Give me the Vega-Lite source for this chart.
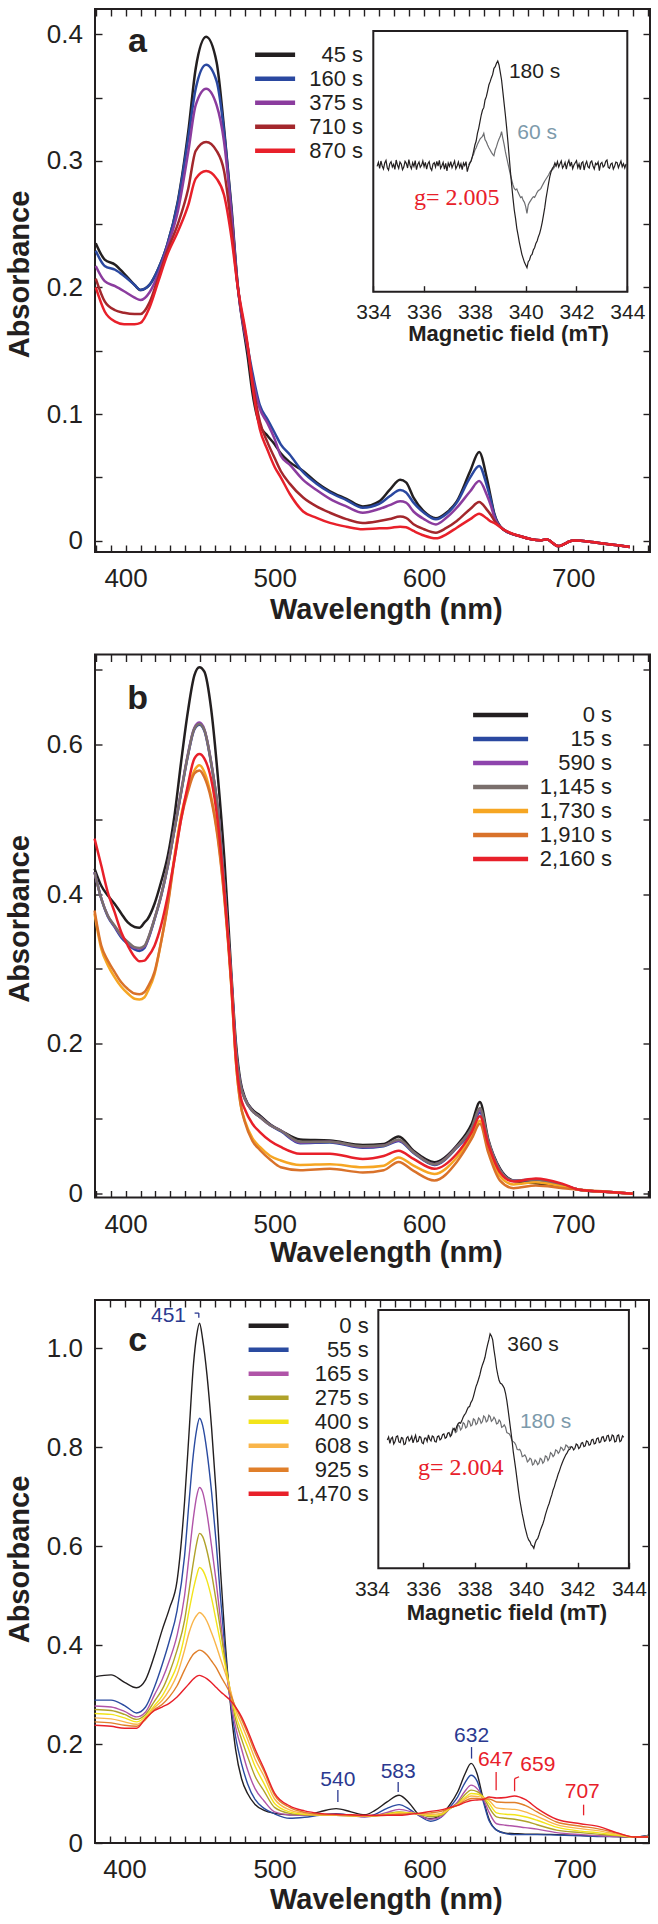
{
"$schema":"https://vega.github.io/schema/vega-lite/v6.json",
"padding":{"left":4,"top":7,"right":0,"bottom":0},
"background":"white",
"spacing":102.5,
"bounds":"flush",
"resolve":{"scale":{"color":"independent"},"legend":{"color":"independent"}},
"config":{
"view":{"stroke":"#231f20","strokeWidth":2},
"axis":{"domain":false,"grid":false,"tickColor":"#231f20","tickWidth":1.4,"tickSize":-7,"labelFont":"Liberation Sans","labelFontSize":26,"labelColor":"#231f20","labelPadding":20,"labelOverlap":false,"labelFlush":false,"titleFont":"Liberation Sans","titleFontWeight":"bold","titleFontSize":29,"titleColor":"#231f20"},
"legend":{"labelFont":"Liberation Sans","labelFontSize":22,"labelColor":"#231f20","padding":0,"symbolType":"stroke","symbolStrokeWidth":4.5}
},
"datasets":{
"specA":[
{"w":380,"t":"45 s","v":0.235},{"w":386,"t":"45 s","v":0.222},{"w":393,"t":"45 s","v":0.218},{"w":399,"t":"45 s","v":0.211},{"w":406,"t":"45 s","v":0.202},{"w":410,"t":"45 s","v":0.198},{"w":416,"t":"45 s","v":0.202},{"w":422,"t":"45 s","v":0.215},{"w":428,"t":"45 s","v":0.234},{"w":435,"t":"45 s","v":0.268},{"w":442,"t":"45 s","v":0.323},{"w":447,"t":"45 s","v":0.373},{"w":454,"t":"45 s","v":0.398},{"w":461,"t":"45 s","v":0.378},{"w":466,"t":"45 s","v":0.326},{"w":471,"t":"45 s","v":0.263},{"w":475,"t":"45 s","v":0.204},{"w":482,"t":"45 s","v":0.144},{"w":485,"t":"45 s","v":0.117},{"w":490,"t":"45 s","v":0.091},{"w":495,"t":"45 s","v":0.083},{"w":500,"t":"45 s","v":0.076},{"w":504,"t":"45 s","v":0.069},{"w":510,"t":"45 s","v":0.062},{"w":519,"t":"45 s","v":0.055},{"w":528,"t":"45 s","v":0.046},{"w":537,"t":"45 s","v":0.039},{"w":548,"t":"45 s","v":0.033},{"w":559,"t":"45 s","v":0.027},{"w":570,"t":"45 s","v":0.031},{"w":577,"t":"45 s","v":0.040},{"w":584,"t":"45 s","v":0.048},{"w":588,"t":"45 s","v":0.046},{"w":593,"t":"45 s","v":0.034},{"w":600,"t":"45 s","v":0.023},{"w":608,"t":"45 s","v":0.0176},{"w":615,"t":"45 s","v":0.022},{"w":622,"t":"45 s","v":0.031},{"w":631,"t":"45 s","v":0.055},{"w":637,"t":"45 s","v":0.070},{"w":642,"t":"45 s","v":0.050},{"w":645,"t":"45 s","v":0.033},{"w":647,"t":"45 s","v":0.022},{"w":653,"t":"45 s","v":0.009},{"w":664,"t":"45 s","v":0.0036},{"w":678,"t":"45 s","v":0.0002},{"w":682,"t":"45 s","v":0.001},{"w":690,"t":"45 s","v":-0.0043},{"w":700,"t":"45 s","v":0},{"w":716,"t":"45 s","v":-0.0016},{"w":738,"t":"45 s","v":-0.005},
{"w":380,"t":"160 s","v":0.229},{"w":386,"t":"160 s","v":0.217},{"w":393,"t":"160 s","v":0.214},{"w":399,"t":"160 s","v":0.209},{"w":406,"t":"160 s","v":0.202},{"w":410,"t":"160 s","v":0.198},{"w":416,"t":"160 s","v":0.202},{"w":422,"t":"160 s","v":0.215},{"w":428,"t":"160 s","v":0.234},{"w":435,"t":"160 s","v":0.267},{"w":442,"t":"160 s","v":0.318},{"w":447,"t":"160 s","v":0.357},{"w":454,"t":"160 s","v":0.376},{"w":461,"t":"160 s","v":0.363},{"w":466,"t":"160 s","v":0.323},{"w":471,"t":"160 s","v":0.260},{"w":475,"t":"160 s","v":0.203},{"w":482,"t":"160 s","v":0.152},{"w":485,"t":"160 s","v":0.133},{"w":490,"t":"160 s","v":0.107},{"w":495,"t":"160 s","v":0.096},{"w":500,"t":"160 s","v":0.085},{"w":504,"t":"160 s","v":0.076},{"w":510,"t":"160 s","v":0.068},{"w":519,"t":"160 s","v":0.054},{"w":528,"t":"160 s","v":0.045},{"w":537,"t":"160 s","v":0.038},{"w":548,"t":"160 s","v":0.032},{"w":559,"t":"160 s","v":0.026},{"w":570,"t":"160 s","v":0.029},{"w":577,"t":"160 s","v":0.035},{"w":584,"t":"160 s","v":0.040},{"w":588,"t":"160 s","v":0.038},{"w":593,"t":"160 s","v":0.030},{"w":600,"t":"160 s","v":0.022},{"w":608,"t":"160 s","v":0.0168},{"w":615,"t":"160 s","v":0.021},{"w":622,"t":"160 s","v":0.030},{"w":631,"t":"160 s","v":0.050},{"w":637,"t":"160 s","v":0.059},{"w":642,"t":"160 s","v":0.044},{"w":645,"t":"160 s","v":0.031},{"w":647,"t":"160 s","v":0.021},{"w":653,"t":"160 s","v":0.009},{"w":664,"t":"160 s","v":0.0036},{"w":678,"t":"160 s","v":0.0002},{"w":682,"t":"160 s","v":0.001},{"w":690,"t":"160 s","v":-0.0043},{"w":700,"t":"160 s","v":0},{"w":716,"t":"160 s","v":-0.0016},{"w":738,"t":"160 s","v":-0.005},
{"w":380,"t":"375 s","v":0.217},{"w":386,"t":"375 s","v":0.205},{"w":393,"t":"375 s","v":0.201},{"w":399,"t":"375 s","v":0.197},{"w":406,"t":"375 s","v":0.192},{"w":410,"t":"375 s","v":0.190},{"w":416,"t":"375 s","v":0.196},{"w":422,"t":"375 s","v":0.211},{"w":428,"t":"375 s","v":0.232},{"w":435,"t":"375 s","v":0.260},{"w":442,"t":"375 s","v":0.307},{"w":447,"t":"375 s","v":0.344},{"w":454,"t":"375 s","v":0.357},{"w":461,"t":"375 s","v":0.344},{"w":466,"t":"375 s","v":0.315},{"w":471,"t":"375 s","v":0.257},{"w":475,"t":"375 s","v":0.202},{"w":482,"t":"375 s","v":0.150},{"w":485,"t":"375 s","v":0.129},{"w":490,"t":"375 s","v":0.104},{"w":495,"t":"375 s","v":0.093},{"w":500,"t":"375 s","v":0.080},{"w":504,"t":"375 s","v":0.067},{"w":510,"t":"375 s","v":0.060},{"w":519,"t":"375 s","v":0.048},{"w":528,"t":"375 s","v":0.040},{"w":537,"t":"375 s","v":0.033},{"w":548,"t":"375 s","v":0.027},{"w":559,"t":"375 s","v":0.022},{"w":570,"t":"375 s","v":0.025},{"w":577,"t":"375 s","v":0.028},{"w":584,"t":"375 s","v":0.031},{"w":588,"t":"375 s","v":0.030},{"w":593,"t":"375 s","v":0.023},{"w":600,"t":"375 s","v":0.017},{"w":608,"t":"375 s","v":0.0128},{"w":615,"t":"375 s","v":0.018},{"w":622,"t":"375 s","v":0.026},{"w":631,"t":"375 s","v":0.039},{"w":637,"t":"375 s","v":0.047},{"w":642,"t":"375 s","v":0.0365},{"w":645,"t":"375 s","v":0.027},{"w":647,"t":"375 s","v":0.019},{"w":653,"t":"375 s","v":0.009},{"w":664,"t":"375 s","v":0.0036},{"w":678,"t":"375 s","v":0.0002},{"w":682,"t":"375 s","v":0.001},{"w":690,"t":"375 s","v":-0.0043},{"w":700,"t":"375 s","v":0},{"w":716,"t":"375 s","v":-0.0016},{"w":738,"t":"375 s","v":-0.005},
{"w":380,"t":"710 s","v":0.207},{"w":386,"t":"710 s","v":0.189},{"w":393,"t":"710 s","v":0.182},{"w":399,"t":"710 s","v":0.180},{"w":406,"t":"710 s","v":0.179},{"w":410,"t":"710 s","v":0.179},{"w":416,"t":"710 s","v":0.188},{"w":422,"t":"710 s","v":0.208},{"w":428,"t":"710 s","v":0.229},{"w":435,"t":"710 s","v":0.250},{"w":442,"t":"710 s","v":0.278},{"w":447,"t":"710 s","v":0.308},{"w":454,"t":"710 s","v":0.315},{"w":461,"t":"710 s","v":0.308},{"w":466,"t":"710 s","v":0.292},{"w":471,"t":"710 s","v":0.247},{"w":475,"t":"710 s","v":0.202},{"w":482,"t":"710 s","v":0.152},{"w":485,"t":"710 s","v":0.126},{"w":490,"t":"710 s","v":0.094},{"w":495,"t":"710 s","v":0.078},{"w":500,"t":"710 s","v":0.065},{"w":504,"t":"710 s","v":0.055},{"w":510,"t":"710 s","v":0.045},{"w":519,"t":"710 s","v":0.034},{"w":528,"t":"710 s","v":0.027},{"w":537,"t":"710 s","v":0.022},{"w":548,"t":"710 s","v":0.017},{"w":559,"t":"710 s","v":0.014},{"w":570,"t":"710 s","v":0.0155},{"w":577,"t":"710 s","v":0.017},{"w":584,"t":"710 s","v":0.019},{"w":588,"t":"710 s","v":0.018},{"w":593,"t":"710 s","v":0.013},{"w":600,"t":"710 s","v":0.009},{"w":608,"t":"710 s","v":0.0063},{"w":615,"t":"710 s","v":0.010},{"w":622,"t":"710 s","v":0.0155},{"w":631,"t":"710 s","v":0.025},{"w":637,"t":"710 s","v":0.0305},{"w":642,"t":"710 s","v":0.0247},{"w":645,"t":"710 s","v":0.020},{"w":647,"t":"710 s","v":0.016},{"w":653,"t":"710 s","v":0.009},{"w":664,"t":"710 s","v":0.0036},{"w":678,"t":"710 s","v":0.0002},{"w":682,"t":"710 s","v":0.001},{"w":690,"t":"710 s","v":-0.0043},{"w":700,"t":"710 s","v":0},{"w":716,"t":"710 s","v":-0.0016},{"w":738,"t":"710 s","v":-0.005},
{"w":380,"t":"870 s","v":0.200},{"w":386,"t":"870 s","v":0.181},{"w":393,"t":"870 s","v":0.173},{"w":399,"t":"870 s","v":0.171},{"w":406,"t":"870 s","v":0.171},{"w":410,"t":"870 s","v":0.172},{"w":416,"t":"870 s","v":0.184},{"w":422,"t":"870 s","v":0.205},{"w":428,"t":"870 s","v":0.226},{"w":435,"t":"870 s","v":0.244},{"w":442,"t":"870 s","v":0.265},{"w":447,"t":"870 s","v":0.286},{"w":454,"t":"870 s","v":0.292},{"w":461,"t":"870 s","v":0.286},{"w":466,"t":"870 s","v":0.273},{"w":471,"t":"870 s","v":0.239},{"w":475,"t":"870 s","v":0.202},{"w":482,"t":"870 s","v":0.153},{"w":485,"t":"870 s","v":0.123},{"w":490,"t":"870 s","v":0.088},{"w":495,"t":"870 s","v":0.072},{"w":500,"t":"870 s","v":0.058},{"w":504,"t":"870 s","v":0.050},{"w":510,"t":"870 s","v":0.037},{"w":519,"t":"870 s","v":0.023},{"w":528,"t":"870 s","v":0.018},{"w":537,"t":"870 s","v":0.014},{"w":548,"t":"870 s","v":0.011},{"w":559,"t":"870 s","v":0.009},{"w":570,"t":"870 s","v":0.0097},{"w":577,"t":"870 s","v":0.010},{"w":584,"t":"870 s","v":0.011},{"w":588,"t":"870 s","v":0.0105},{"w":593,"t":"870 s","v":0.0076},{"w":600,"t":"870 s","v":0.004},{"w":608,"t":"870 s","v":0.0018},{"w":615,"t":"870 s","v":0.005},{"w":622,"t":"870 s","v":0.0102},{"w":631,"t":"870 s","v":0.017},{"w":637,"t":"870 s","v":0.0213},{"w":642,"t":"870 s","v":0.0176},{"w":645,"t":"870 s","v":0.015},{"w":647,"t":"870 s","v":0.014},{"w":653,"t":"870 s","v":0.009},{"w":664,"t":"870 s","v":0.0036},{"w":678,"t":"870 s","v":0.0002},{"w":682,"t":"870 s","v":0.001},{"w":690,"t":"870 s","v":-0.0043},{"w":700,"t":"870 s","v":0},{"w":716,"t":"870 s","v":-0.0016},{"w":738,"t":"870 s","v":-0.005}
],
"specB":[
{"w":379.2,"t":"0 s","v":0.434},{"w":383.7,"t":"0 s","v":0.411},{"w":388.1,"t":"0 s","v":0.398},{"w":392.6,"t":"0 s","v":0.387},{"w":397.1,"t":"0 s","v":0.374},{"w":401.5,"t":"0 s","v":0.362},{"w":406,"t":"0 s","v":0.356},{"w":409.3,"t":"0 s","v":0.355},{"w":412.7,"t":"0 s","v":0.362},{"w":414.9,"t":"0 s","v":0.367},{"w":419.4,"t":"0 s","v":0.387},{"w":423.8,"t":"0 s","v":0.416},{"w":428.3,"t":"0 s","v":0.451},{"w":432.8,"t":"0 s","v":0.505},{"w":437.2,"t":"0 s","v":0.576},{"w":441.7,"t":"0 s","v":0.643},{"w":446.1,"t":"0 s","v":0.692},{"w":449.5,"t":"0 s","v":0.703},{"w":452.8,"t":"0 s","v":0.697},{"w":457.3,"t":"0 s","v":0.648},{"w":461.8,"t":"0 s","v":0.558},{"w":466.2,"t":"0 s","v":0.447},{"w":470.7,"t":"0 s","v":0.300},{"w":474,"t":"0 s","v":0.20},{"w":477,"t":"0 s","v":0.15},{"w":480,"t":"0 s","v":0.128},{"w":485,"t":"0 s","v":0.112},{"w":490,"t":"0 s","v":0.104},{"w":497,"t":"0 s","v":0.092},{"w":504,"t":"0 s","v":0.084},{"w":517,"t":"0 s","v":0.072},{"w":537,"t":"0 s","v":0.0706},{"w":559,"t":"0 s","v":0.0648},{"w":573,"t":"0 s","v":0.066},{"w":583,"t":"0 s","v":0.076},{"w":593,"t":"0 s","v":0.057},{"w":607,"t":"0 s","v":0.0417},{"w":622,"t":"0 s","v":0.064},{"w":632,"t":"0 s","v":0.093},{"w":637.5,"t":"0 s","v":0.122},{"w":643,"t":"0 s","v":0.073},{"w":651,"t":"0 s","v":0.033},{"w":660,"t":"0 s","v":0.017},{"w":675,"t":"0 s","v":0.0136},{"w":693,"t":"0 s","v":0.0095},{"w":704,"t":"0 s","v":0.005},{"w":727,"t":"0 s","v":0.0016},{"w":740,"t":"0 s","v":-0.0006},
{"w":379.2,"t":"15 s","v":0.429},{"w":383.7,"t":"15 s","v":0.394},{"w":388.1,"t":"15 s","v":0.370},{"w":392.6,"t":"15 s","v":0.356},{"w":397.1,"t":"15 s","v":0.342},{"w":401.5,"t":"15 s","v":0.333},{"w":406,"t":"15 s","v":0.326},{"w":409.3,"t":"15 s","v":0.324},{"w":412.7,"t":"15 s","v":0.328},{"w":414.9,"t":"15 s","v":0.338},{"w":419.4,"t":"15 s","v":0.366},{"w":423.8,"t":"15 s","v":0.397},{"w":428.3,"t":"15 s","v":0.437},{"w":432.8,"t":"15 s","v":0.486},{"w":437.2,"t":"15 s","v":0.535},{"w":441.7,"t":"15 s","v":0.584},{"w":446.1,"t":"15 s","v":0.620},{"w":449.5,"t":"15 s","v":0.626},{"w":452.8,"t":"15 s","v":0.618},{"w":457.3,"t":"15 s","v":0.575},{"w":461.8,"t":"15 s","v":0.513},{"w":466.2,"t":"15 s","v":0.410},{"w":470.7,"t":"15 s","v":0.290},{"w":474,"t":"15 s","v":0.19},{"w":477,"t":"15 s","v":0.145},{"w":480,"t":"15 s","v":0.126},{"w":485,"t":"15 s","v":0.11},{"w":490,"t":"15 s","v":0.102},{"w":497,"t":"15 s","v":0.091},{"w":504,"t":"15 s","v":0.083},{"w":517,"t":"15 s","v":0.067},{"w":537,"t":"15 s","v":0.068},{"w":559,"t":"15 s","v":0.061},{"w":573,"t":"15 s","v":0.063},{"w":583,"t":"15 s","v":0.070},{"w":593,"t":"15 s","v":0.054},{"w":607,"t":"15 s","v":0.038},{"w":622,"t":"15 s","v":0.061},{"w":632,"t":"15 s","v":0.085},{"w":637.5,"t":"15 s","v":0.108},{"w":643,"t":"15 s","v":0.069},{"w":651,"t":"15 s","v":0.031},{"w":660,"t":"15 s","v":0.017},{"w":675,"t":"15 s","v":0.018},{"w":693,"t":"15 s","v":0.011},{"w":704,"t":"15 s","v":0.005},{"w":727,"t":"15 s","v":0.0016},{"w":740,"t":"15 s","v":-0.0006},
{"w":379.2,"t":"590 s","v":0.429},{"w":383.7,"t":"590 s","v":0.394},{"w":388.1,"t":"590 s","v":0.371},{"w":392.6,"t":"590 s","v":0.357},{"w":397.1,"t":"590 s","v":0.344},{"w":401.5,"t":"590 s","v":0.335},{"w":406,"t":"590 s","v":0.328},{"w":409.3,"t":"590 s","v":0.327},{"w":412.7,"t":"590 s","v":0.330},{"w":414.9,"t":"590 s","v":0.339},{"w":419.4,"t":"590 s","v":0.367},{"w":423.8,"t":"590 s","v":0.398},{"w":428.3,"t":"590 s","v":0.438},{"w":432.8,"t":"590 s","v":0.487},{"w":437.2,"t":"590 s","v":0.537},{"w":441.7,"t":"590 s","v":0.586},{"w":446.1,"t":"590 s","v":0.622},{"w":449.5,"t":"590 s","v":0.629},{"w":452.8,"t":"590 s","v":0.620},{"w":457.3,"t":"590 s","v":0.577},{"w":461.8,"t":"590 s","v":0.514},{"w":466.2,"t":"590 s","v":0.411},{"w":470.7,"t":"590 s","v":0.291},{"w":474,"t":"590 s","v":0.19},{"w":477,"t":"590 s","v":0.145},{"w":480,"t":"590 s","v":0.126},{"w":485,"t":"590 s","v":0.11},{"w":490,"t":"590 s","v":0.102},{"w":497,"t":"590 s","v":0.091},{"w":504,"t":"590 s","v":0.084},{"w":517,"t":"590 s","v":0.068},{"w":537,"t":"590 s","v":0.069},{"w":559,"t":"590 s","v":0.062},{"w":573,"t":"590 s","v":0.064},{"w":583,"t":"590 s","v":0.071},{"w":593,"t":"590 s","v":0.055},{"w":607,"t":"590 s","v":0.039},{"w":622,"t":"590 s","v":0.062},{"w":632,"t":"590 s","v":0.087},{"w":637.5,"t":"590 s","v":0.111},{"w":643,"t":"590 s","v":0.070},{"w":651,"t":"590 s","v":0.031},{"w":660,"t":"590 s","v":0.017},{"w":675,"t":"590 s","v":0.0185},{"w":693,"t":"590 s","v":0.011},{"w":704,"t":"590 s","v":0.005},{"w":727,"t":"590 s","v":0.0016},{"w":740,"t":"590 s","v":-0.0006},
{"w":379.2,"t":"1,145 s","v":0.429},{"w":383.7,"t":"1,145 s","v":0.394},{"w":388.1,"t":"1,145 s","v":0.371},{"w":392.6,"t":"1,145 s","v":0.358},{"w":397.1,"t":"1,145 s","v":0.345},{"w":401.5,"t":"1,145 s","v":0.336},{"w":406,"t":"1,145 s","v":0.329},{"w":409.3,"t":"1,145 s","v":0.328},{"w":412.7,"t":"1,145 s","v":0.331},{"w":414.9,"t":"1,145 s","v":0.340},{"w":419.4,"t":"1,145 s","v":0.367},{"w":423.8,"t":"1,145 s","v":0.398},{"w":428.3,"t":"1,145 s","v":0.438},{"w":432.8,"t":"1,145 s","v":0.487},{"w":437.2,"t":"1,145 s","v":0.536},{"w":441.7,"t":"1,145 s","v":0.585},{"w":446.1,"t":"1,145 s","v":0.621},{"w":449.5,"t":"1,145 s","v":0.627},{"w":452.8,"t":"1,145 s","v":0.619},{"w":457.3,"t":"1,145 s","v":0.576},{"w":461.8,"t":"1,145 s","v":0.514},{"w":466.2,"t":"1,145 s","v":0.411},{"w":470.7,"t":"1,145 s","v":0.291},{"w":474,"t":"1,145 s","v":0.19},{"w":477,"t":"1,145 s","v":0.145},{"w":480,"t":"1,145 s","v":0.126},{"w":485,"t":"1,145 s","v":0.11},{"w":490,"t":"1,145 s","v":0.102},{"w":497,"t":"1,145 s","v":0.091},{"w":504,"t":"1,145 s","v":0.084},{"w":517,"t":"1,145 s","v":0.069},{"w":537,"t":"1,145 s","v":0.069},{"w":559,"t":"1,145 s","v":0.063},{"w":573,"t":"1,145 s","v":0.064},{"w":583,"t":"1,145 s","v":0.072},{"w":593,"t":"1,145 s","v":0.055},{"w":607,"t":"1,145 s","v":0.039},{"w":622,"t":"1,145 s","v":0.062},{"w":632,"t":"1,145 s","v":0.088},{"w":637.5,"t":"1,145 s","v":0.114},{"w":643,"t":"1,145 s","v":0.071},{"w":651,"t":"1,145 s","v":0.031},{"w":660,"t":"1,145 s","v":0.017},{"w":675,"t":"1,145 s","v":0.0185},{"w":693,"t":"1,145 s","v":0.011},{"w":704,"t":"1,145 s","v":0.005},{"w":727,"t":"1,145 s","v":0.0016},{"w":740,"t":"1,145 s","v":-0.0006},
{"w":379.2,"t":"1,730 s","v":0.374},{"w":383.7,"t":"1,730 s","v":0.327},{"w":388.1,"t":"1,730 s","v":0.305},{"w":392.6,"t":"1,730 s","v":0.289},{"w":397.1,"t":"1,730 s","v":0.276},{"w":401.5,"t":"1,730 s","v":0.267},{"w":406,"t":"1,730 s","v":0.260},{"w":409.3,"t":"1,730 s","v":0.259},{"w":412.7,"t":"1,730 s","v":0.262},{"w":414.9,"t":"1,730 s","v":0.270},{"w":419.4,"t":"1,730 s","v":0.293},{"w":423.8,"t":"1,730 s","v":0.336},{"w":428.3,"t":"1,730 s","v":0.387},{"w":432.8,"t":"1,730 s","v":0.451},{"w":437.2,"t":"1,730 s","v":0.505},{"w":441.7,"t":"1,730 s","v":0.540},{"w":446.1,"t":"1,730 s","v":0.565},{"w":449.5,"t":"1,730 s","v":0.572},{"w":452.8,"t":"1,730 s","v":0.563},{"w":457.3,"t":"1,730 s","v":0.531},{"w":461.8,"t":"1,730 s","v":0.478},{"w":466.2,"t":"1,730 s","v":0.396},{"w":470.7,"t":"1,730 s","v":0.282},{"w":474,"t":"1,730 s","v":0.175},{"w":477,"t":"1,730 s","v":0.12},{"w":480,"t":"1,730 s","v":0.097},{"w":485,"t":"1,730 s","v":0.074},{"w":490,"t":"1,730 s","v":0.062},{"w":497,"t":"1,730 s","v":0.05},{"w":504,"t":"1,730 s","v":0.044},{"w":517,"t":"1,730 s","v":0.038},{"w":537,"t":"1,730 s","v":0.039},{"w":559,"t":"1,730 s","v":0.035},{"w":573,"t":"1,730 s","v":0.037},{"w":583,"t":"1,730 s","v":0.048},{"w":593,"t":"1,730 s","v":0.037},{"w":607,"t":"1,730 s","v":0.026},{"w":622,"t":"1,730 s","v":0.048},{"w":632,"t":"1,730 s","v":0.077},{"w":637.5,"t":"1,730 s","v":0.097},{"w":643,"t":"1,730 s","v":0.060},{"w":651,"t":"1,730 s","v":0.023},{"w":660,"t":"1,730 s","v":0.012},{"w":675,"t":"1,730 s","v":0.015},{"w":693,"t":"1,730 s","v":0.009},{"w":704,"t":"1,730 s","v":0.005},{"w":727,"t":"1,730 s","v":0.0016},{"w":740,"t":"1,730 s","v":-0.0006},
{"w":379.2,"t":"1,910 s","v":0.378},{"w":383.7,"t":"1,910 s","v":0.331},{"w":388.1,"t":"1,910 s","v":0.311},{"w":392.6,"t":"1,910 s","v":0.296},{"w":397.1,"t":"1,910 s","v":0.282},{"w":401.5,"t":"1,910 s","v":0.273},{"w":406,"t":"1,910 s","v":0.267},{"w":409.3,"t":"1,910 s","v":0.266},{"w":412.7,"t":"1,910 s","v":0.269},{"w":414.9,"t":"1,910 s","v":0.276},{"w":419.4,"t":"1,910 s","v":0.296},{"w":423.8,"t":"1,910 s","v":0.336},{"w":428.3,"t":"1,910 s","v":0.385},{"w":432.8,"t":"1,910 s","v":0.447},{"w":437.2,"t":"1,910 s","v":0.500},{"w":441.7,"t":"1,910 s","v":0.536},{"w":446.1,"t":"1,910 s","v":0.561},{"w":449.5,"t":"1,910 s","v":0.565},{"w":452.8,"t":"1,910 s","v":0.556},{"w":457.3,"t":"1,910 s","v":0.527},{"w":461.8,"t":"1,910 s","v":0.474},{"w":466.2,"t":"1,910 s","v":0.394},{"w":470.7,"t":"1,910 s","v":0.282},{"w":474,"t":"1,910 s","v":0.175},{"w":477,"t":"1,910 s","v":0.12},{"w":480,"t":"1,910 s","v":0.095},{"w":485,"t":"1,910 s","v":0.07},{"w":490,"t":"1,910 s","v":0.058},{"w":497,"t":"1,910 s","v":0.045},{"w":504,"t":"1,910 s","v":0.035},{"w":517,"t":"1,910 s","v":0.031},{"w":537,"t":"1,910 s","v":0.0328},{"w":559,"t":"1,910 s","v":0.028},{"w":573,"t":"1,910 s","v":0.031},{"w":583,"t":"1,910 s","v":0.042},{"w":593,"t":"1,910 s","v":0.030},{"w":607,"t":"1,910 s","v":0.0172},{"w":622,"t":"1,910 s","v":0.042},{"w":632,"t":"1,910 s","v":0.073},{"w":637.5,"t":"1,910 s","v":0.093},{"w":643,"t":"1,910 s","v":0.055},{"w":651,"t":"1,910 s","v":0.017},{"w":660,"t":"1,910 s","v":0.007},{"w":675,"t":"1,910 s","v":0.0105},{"w":693,"t":"1,910 s","v":0.007},{"w":704,"t":"1,910 s","v":0.005},{"w":727,"t":"1,910 s","v":0.0016},{"w":740,"t":"1,910 s","v":-0.0006},
{"w":379.2,"t":"2,160 s","v":0.474},{"w":383.7,"t":"2,160 s","v":0.438},{"w":388.1,"t":"2,160 s","v":0.402},{"w":392.6,"t":"2,160 s","v":0.376},{"w":397.1,"t":"2,160 s","v":0.349},{"w":401.5,"t":"2,160 s","v":0.331},{"w":406,"t":"2,160 s","v":0.316},{"w":409.3,"t":"2,160 s","v":0.310},{"w":412.7,"t":"2,160 s","v":0.311},{"w":414.9,"t":"2,160 s","v":0.316},{"w":419.4,"t":"2,160 s","v":0.331},{"w":423.8,"t":"2,160 s","v":0.358},{"w":428.3,"t":"2,160 s","v":0.398},{"w":432.8,"t":"2,160 s","v":0.447},{"w":437.2,"t":"2,160 s","v":0.500},{"w":441.7,"t":"2,160 s","v":0.545},{"w":446.1,"t":"2,160 s","v":0.581},{"w":449.5,"t":"2,160 s","v":0.587},{"w":452.8,"t":"2,160 s","v":0.581},{"w":457.3,"t":"2,160 s","v":0.554},{"w":461.8,"t":"2,160 s","v":0.496},{"w":466.2,"t":"2,160 s","v":0.402},{"w":470.7,"t":"2,160 s","v":0.287},{"w":474,"t":"2,160 s","v":0.18},{"w":477,"t":"2,160 s","v":0.13},{"w":480,"t":"2,160 s","v":0.112},{"w":485,"t":"2,160 s","v":0.093},{"w":490,"t":"2,160 s","v":0.082},{"w":497,"t":"2,160 s","v":0.07},{"w":504,"t":"2,160 s","v":0.062},{"w":517,"t":"2,160 s","v":0.053},{"w":537,"t":"2,160 s","v":0.053},{"w":559,"t":"2,160 s","v":0.046},{"w":573,"t":"2,160 s","v":0.05},{"w":583,"t":"2,160 s","v":0.057},{"w":593,"t":"2,160 s","v":0.046},{"w":607,"t":"2,160 s","v":0.0328},{"w":622,"t":"2,160 s","v":0.053},{"w":632,"t":"2,160 s","v":0.082},{"w":637.5,"t":"2,160 s","v":0.103},{"w":643,"t":"2,160 s","v":0.066},{"w":651,"t":"2,160 s","v":0.028},{"w":660,"t":"2,160 s","v":0.016},{"w":675,"t":"2,160 s","v":0.02},{"w":693,"t":"2,160 s","v":0.0127},{"w":704,"t":"2,160 s","v":0.005},{"w":727,"t":"2,160 s","v":0.0016},{"w":740,"t":"2,160 s","v":-0.0006}
],
"specC":[
{"w":380,"t":"0 s","v":0.336},{"w":391,"t":"0 s","v":0.340},{"w":400,"t":"0 s","v":0.325},{"w":408,"t":"0 s","v":0.314},{"w":414,"t":"0 s","v":0.330},{"w":420,"t":"0 s","v":0.380},{"w":425,"t":"0 s","v":0.430},{"w":430,"t":"0 s","v":0.475},{"w":435,"t":"0 s","v":0.530},{"w":440,"t":"0 s","v":0.690},{"w":443,"t":"0 s","v":0.830},{"w":446,"t":"0 s","v":0.970},{"w":448,"t":"0 s","v":1.025},{"w":450,"t":"0 s","v":1.051},{"w":452,"t":"0 s","v":1.020},{"w":455,"t":"0 s","v":0.945},{"w":458,"t":"0 s","v":0.840},{"w":461,"t":"0 s","v":0.710},{"w":464,"t":"0 s","v":0.550},{"w":467,"t":"0 s","v":0.410},{"w":470,"t":"0 s","v":0.300},{"w":474,"t":"0 s","v":0.190},{"w":478,"t":"0 s","v":0.130},{"w":482,"t":"0 s","v":0.100},{"w":487,"t":"0 s","v":0.078},{"w":493,"t":"0 s","v":0.066},{"w":500,"t":"0 s","v":0.060},{"w":510,"t":"0 s","v":0.057},{"w":520,"t":"0 s","v":0.057},{"w":530,"t":"0 s","v":0.063},{"w":541,"t":"0 s","v":0.0695},{"w":551,"t":"0 s","v":0.063},{"w":560,"t":"0 s","v":0.057},{"w":567,"t":"0 s","v":0.066},{"w":575,"t":"0 s","v":0.083},{"w":583,"t":"0 s","v":0.0965},{"w":590,"t":"0 s","v":0.080},{"w":596,"t":"0 s","v":0.058},{"w":604,"t":"0 s","v":0.049},{"w":611,"t":"0 s","v":0.057},{"w":617,"t":"0 s","v":0.078},{"w":622,"t":"0 s","v":0.103},{"w":627,"t":"0 s","v":0.140},{"w":631,"t":"0 s","v":0.161},{"w":635,"t":"0 s","v":0.140},{"w":639,"t":"0 s","v":0.090},{"w":643,"t":"0 s","v":0.048},{"w":648,"t":"0 s","v":0.026},{"w":654,"t":"0 s","v":0.020},{"w":660,"t":"0 s","v":0.019},{"w":667,"t":"0 s","v":0.018},{"w":675,"t":"0 s","v":0.018},{"w":688,"t":"0 s","v":0.017},{"w":704,"t":"0 s","v":0.0155},{"w":715,"t":"0 s","v":0.014},{"w":728,"t":"0 s","v":0.013},{"w":740,"t":"0 s","v":0.012},{"w":749,"t":"0 s","v":0.0155},
{"w":380,"t":"55 s","v":0.289},{"w":391,"t":"55 s","v":0.289},{"w":400,"t":"55 s","v":0.278},{"w":408,"t":"55 s","v":0.263},{"w":414,"t":"55 s","v":0.275},{"w":420,"t":"55 s","v":0.316},{"w":425,"t":"55 s","v":0.360},{"w":430,"t":"55 s","v":0.410},{"w":435,"t":"55 s","v":0.470},{"w":440,"t":"55 s","v":0.580},{"w":443,"t":"55 s","v":0.690},{"w":446,"t":"55 s","v":0.790},{"w":448,"t":"55 s","v":0.835},{"w":450,"t":"55 s","v":0.859},{"w":452,"t":"55 s","v":0.845},{"w":455,"t":"55 s","v":0.790},{"w":458,"t":"55 s","v":0.710},{"w":461,"t":"55 s","v":0.610},{"w":464,"t":"55 s","v":0.495},{"w":467,"t":"55 s","v":0.390},{"w":470,"t":"55 s","v":0.300},{"w":474,"t":"55 s","v":0.215},{"w":478,"t":"55 s","v":0.160},{"w":482,"t":"55 s","v":0.120},{"w":487,"t":"55 s","v":0.088},{"w":493,"t":"55 s","v":0.070},{"w":500,"t":"55 s","v":0.059},{"w":510,"t":"55 s","v":0.050},{"w":520,"t":"55 s","v":0.052},{"w":530,"t":"55 s","v":0.056},{"w":541,"t":"55 s","v":0.059},{"w":551,"t":"55 s","v":0.056},{"w":560,"t":"55 s","v":0.053},{"w":567,"t":"55 s","v":0.058},{"w":575,"t":"55 s","v":0.070},{"w":583,"t":"55 s","v":0.0776},{"w":590,"t":"55 s","v":0.068},{"w":596,"t":"55 s","v":0.056},{"w":604,"t":"55 s","v":0.044},{"w":611,"t":"55 s","v":0.052},{"w":617,"t":"55 s","v":0.073},{"w":622,"t":"55 s","v":0.093},{"w":627,"t":"55 s","v":0.122},{"w":631,"t":"55 s","v":0.137},{"w":635,"t":"55 s","v":0.125},{"w":639,"t":"55 s","v":0.085},{"w":643,"t":"55 s","v":0.045},{"w":648,"t":"55 s","v":0.026},{"w":654,"t":"55 s","v":0.019},{"w":660,"t":"55 s","v":0.017},{"w":667,"t":"55 s","v":0.017},{"w":675,"t":"55 s","v":0.017},{"w":688,"t":"55 s","v":0.016},{"w":704,"t":"55 s","v":0.0145},{"w":715,"t":"55 s","v":0.013},{"w":728,"t":"55 s","v":0.013},{"w":740,"t":"55 s","v":0.012},{"w":749,"t":"55 s","v":0.0155},
{"w":380,"t":"165 s","v":0.277},{"w":391,"t":"165 s","v":0.275},{"w":400,"t":"165 s","v":0.266},{"w":408,"t":"165 s","v":0.255},{"w":414,"t":"165 s","v":0.265},{"w":420,"t":"165 s","v":0.300},{"w":425,"t":"165 s","v":0.330},{"w":430,"t":"165 s","v":0.370},{"w":435,"t":"165 s","v":0.420},{"w":440,"t":"165 s","v":0.500},{"w":443,"t":"165 s","v":0.580},{"w":446,"t":"165 s","v":0.660},{"w":448,"t":"165 s","v":0.700},{"w":450,"t":"165 s","v":0.719},{"w":452,"t":"165 s","v":0.710},{"w":455,"t":"165 s","v":0.665},{"w":458,"t":"165 s","v":0.600},{"w":461,"t":"165 s","v":0.530},{"w":464,"t":"165 s","v":0.450},{"w":467,"t":"165 s","v":0.370},{"w":470,"t":"165 s","v":0.300},{"w":474,"t":"165 s","v":0.235},{"w":478,"t":"165 s","v":0.190},{"w":482,"t":"165 s","v":0.148},{"w":487,"t":"165 s","v":0.110},{"w":493,"t":"165 s","v":0.085},{"w":500,"t":"165 s","v":0.063},{"w":510,"t":"165 s","v":0.057},{"w":520,"t":"165 s","v":0.056},{"w":530,"t":"165 s","v":0.056},{"w":541,"t":"165 s","v":0.056},{"w":551,"t":"165 s","v":0.055},{"w":560,"t":"165 s","v":0.053},{"w":567,"t":"165 s","v":0.055},{"w":575,"t":"165 s","v":0.062},{"w":583,"t":"165 s","v":0.068},{"w":590,"t":"165 s","v":0.064},{"w":596,"t":"165 s","v":0.057},{"w":604,"t":"165 s","v":0.048},{"w":611,"t":"165 s","v":0.053},{"w":617,"t":"165 s","v":0.070},{"w":622,"t":"165 s","v":0.083},{"w":627,"t":"165 s","v":0.105},{"w":631,"t":"165 s","v":0.117},{"w":635,"t":"165 s","v":0.110},{"w":639,"t":"165 s","v":0.090},{"w":643,"t":"165 s","v":0.062},{"w":648,"t":"165 s","v":0.039},{"w":654,"t":"165 s","v":0.036},{"w":660,"t":"165 s","v":0.034},{"w":667,"t":"165 s","v":0.031},{"w":675,"t":"165 s","v":0.028},{"w":688,"t":"165 s","v":0.021},{"w":704,"t":"165 s","v":0.017},{"w":715,"t":"165 s","v":0.015},{"w":728,"t":"165 s","v":0.013},{"w":740,"t":"165 s","v":0.012},{"w":749,"t":"165 s","v":0.013},
{"w":380,"t":"275 s","v":0.270},{"w":391,"t":"275 s","v":0.268},{"w":400,"t":"275 s","v":0.260},{"w":408,"t":"275 s","v":0.250},{"w":414,"t":"275 s","v":0.260},{"w":420,"t":"275 s","v":0.287},{"w":425,"t":"275 s","v":0.310},{"w":430,"t":"275 s","v":0.345},{"w":435,"t":"275 s","v":0.390},{"w":440,"t":"275 s","v":0.450},{"w":443,"t":"275 s","v":0.510},{"w":446,"t":"275 s","v":0.570},{"w":448,"t":"275 s","v":0.605},{"w":450,"t":"275 s","v":0.626},{"w":452,"t":"275 s","v":0.620},{"w":455,"t":"275 s","v":0.590},{"w":458,"t":"275 s","v":0.545},{"w":461,"t":"275 s","v":0.490},{"w":464,"t":"275 s","v":0.430},{"w":467,"t":"275 s","v":0.370},{"w":470,"t":"275 s","v":0.315},{"w":474,"t":"275 s","v":0.250},{"w":478,"t":"275 s","v":0.210},{"w":482,"t":"275 s","v":0.175},{"w":487,"t":"275 s","v":0.135},{"w":493,"t":"275 s","v":0.105},{"w":500,"t":"275 s","v":0.072},{"w":510,"t":"275 s","v":0.060},{"w":520,"t":"275 s","v":0.057},{"w":530,"t":"275 s","v":0.056},{"w":541,"t":"275 s","v":0.056},{"w":551,"t":"275 s","v":0.055},{"w":560,"t":"275 s","v":0.054},{"w":567,"t":"275 s","v":0.055},{"w":575,"t":"275 s","v":0.059},{"w":583,"t":"275 s","v":0.063},{"w":590,"t":"275 s","v":0.061},{"w":596,"t":"275 s","v":0.058},{"w":604,"t":"275 s","v":0.053},{"w":611,"t":"275 s","v":0.056},{"w":617,"t":"275 s","v":0.070},{"w":622,"t":"275 s","v":0.080},{"w":627,"t":"275 s","v":0.098},{"w":631,"t":"275 s","v":0.107},{"w":635,"t":"275 s","v":0.104},{"w":639,"t":"275 s","v":0.094},{"w":643,"t":"275 s","v":0.072},{"w":648,"t":"275 s","v":0.053},{"w":654,"t":"275 s","v":0.050},{"w":660,"t":"275 s","v":0.048},{"w":667,"t":"275 s","v":0.044},{"w":675,"t":"275 s","v":0.037},{"w":688,"t":"275 s","v":0.026},{"w":704,"t":"275 s","v":0.021},{"w":715,"t":"275 s","v":0.018},{"w":728,"t":"275 s","v":0.015},{"w":740,"t":"275 s","v":0.012},{"w":749,"t":"275 s","v":0.013},
{"w":380,"t":"400 s","v":0.262},{"w":391,"t":"400 s","v":0.260},{"w":400,"t":"400 s","v":0.253},{"w":408,"t":"400 s","v":0.245},{"w":414,"t":"400 s","v":0.256},{"w":420,"t":"400 s","v":0.278},{"w":425,"t":"400 s","v":0.297},{"w":430,"t":"400 s","v":0.325},{"w":435,"t":"400 s","v":0.360},{"w":440,"t":"400 s","v":0.420},{"w":443,"t":"400 s","v":0.470},{"w":446,"t":"400 s","v":0.515},{"w":448,"t":"400 s","v":0.540},{"w":450,"t":"400 s","v":0.557},{"w":452,"t":"400 s","v":0.552},{"w":455,"t":"400 s","v":0.530},{"w":458,"t":"400 s","v":0.495},{"w":461,"t":"400 s","v":0.450},{"w":464,"t":"400 s","v":0.405},{"w":467,"t":"400 s","v":0.360},{"w":470,"t":"400 s","v":0.315},{"w":474,"t":"400 s","v":0.260},{"w":478,"t":"400 s","v":0.225},{"w":482,"t":"400 s","v":0.195},{"w":487,"t":"400 s","v":0.155},{"w":493,"t":"400 s","v":0.120},{"w":500,"t":"400 s","v":0.080},{"w":510,"t":"400 s","v":0.063},{"w":520,"t":"400 s","v":0.058},{"w":530,"t":"400 s","v":0.057},{"w":541,"t":"400 s","v":0.056},{"w":551,"t":"400 s","v":0.055},{"w":560,"t":"400 s","v":0.054},{"w":567,"t":"400 s","v":0.055},{"w":575,"t":"400 s","v":0.058},{"w":583,"t":"400 s","v":0.062},{"w":590,"t":"400 s","v":0.061},{"w":596,"t":"400 s","v":0.059},{"w":604,"t":"400 s","v":0.056},{"w":611,"t":"400 s","v":0.058},{"w":617,"t":"400 s","v":0.070},{"w":622,"t":"400 s","v":0.078},{"w":627,"t":"400 s","v":0.092},{"w":631,"t":"400 s","v":0.100},{"w":635,"t":"400 s","v":0.099},{"w":639,"t":"400 s","v":0.093},{"w":643,"t":"400 s","v":0.080},{"w":648,"t":"400 s","v":0.061},{"w":654,"t":"400 s","v":0.058},{"w":660,"t":"400 s","v":0.057},{"w":667,"t":"400 s","v":0.053},{"w":675,"t":"400 s","v":0.046},{"w":688,"t":"400 s","v":0.032},{"w":704,"t":"400 s","v":0.024},{"w":715,"t":"400 s","v":0.021},{"w":728,"t":"400 s","v":0.016},{"w":740,"t":"400 s","v":0.012},{"w":749,"t":"400 s","v":0.013},
{"w":380,"t":"608 s","v":0.253},{"w":391,"t":"608 s","v":0.251},{"w":400,"t":"608 s","v":0.245},{"w":408,"t":"608 s","v":0.240},{"w":414,"t":"608 s","v":0.252},{"w":420,"t":"608 s","v":0.274},{"w":425,"t":"608 s","v":0.288},{"w":430,"t":"608 s","v":0.310},{"w":435,"t":"608 s","v":0.340},{"w":440,"t":"608 s","v":0.390},{"w":443,"t":"608 s","v":0.425},{"w":446,"t":"608 s","v":0.450},{"w":448,"t":"608 s","v":0.460},{"w":450,"t":"608 s","v":0.466},{"w":452,"t":"608 s","v":0.462},{"w":455,"t":"608 s","v":0.448},{"w":458,"t":"608 s","v":0.425},{"w":461,"t":"608 s","v":0.400},{"w":464,"t":"608 s","v":0.372},{"w":467,"t":"608 s","v":0.345},{"w":470,"t":"608 s","v":0.315},{"w":474,"t":"608 s","v":0.270},{"w":478,"t":"608 s","v":0.240},{"w":482,"t":"608 s","v":0.210},{"w":487,"t":"608 s","v":0.170},{"w":493,"t":"608 s","v":0.135},{"w":500,"t":"608 s","v":0.089},{"w":510,"t":"608 s","v":0.067},{"w":520,"t":"608 s","v":0.060},{"w":530,"t":"608 s","v":0.057},{"w":541,"t":"608 s","v":0.056},{"w":551,"t":"608 s","v":0.055},{"w":560,"t":"608 s","v":0.054},{"w":567,"t":"608 s","v":0.055},{"w":575,"t":"608 s","v":0.057},{"w":583,"t":"608 s","v":0.060},{"w":590,"t":"608 s","v":0.060},{"w":596,"t":"608 s","v":0.059},{"w":604,"t":"608 s","v":0.058},{"w":611,"t":"608 s","v":0.060},{"w":617,"t":"608 s","v":0.071},{"w":622,"t":"608 s","v":0.077},{"w":627,"t":"608 s","v":0.089},{"w":631,"t":"608 s","v":0.095},{"w":635,"t":"608 s","v":0.094},{"w":639,"t":"608 s","v":0.092},{"w":643,"t":"608 s","v":0.086},{"w":648,"t":"608 s","v":0.071},{"w":654,"t":"608 s","v":0.069},{"w":660,"t":"608 s","v":0.068},{"w":667,"t":"608 s","v":0.063},{"w":675,"t":"608 s","v":0.054},{"w":688,"t":"608 s","v":0.037},{"w":704,"t":"608 s","v":0.029},{"w":715,"t":"608 s","v":0.025},{"w":728,"t":"608 s","v":0.018},{"w":740,"t":"608 s","v":0.012},{"w":749,"t":"608 s","v":0.013},
{"w":380,"t":"925 s","v":0.245},{"w":391,"t":"925 s","v":0.243},{"w":400,"t":"925 s","v":0.238},{"w":408,"t":"925 s","v":0.236},{"w":414,"t":"925 s","v":0.250},{"w":420,"t":"925 s","v":0.270},{"w":425,"t":"925 s","v":0.280},{"w":430,"t":"925 s","v":0.296},{"w":435,"t":"925 s","v":0.318},{"w":440,"t":"925 s","v":0.350},{"w":443,"t":"925 s","v":0.368},{"w":446,"t":"925 s","v":0.382},{"w":448,"t":"925 s","v":0.387},{"w":450,"t":"925 s","v":0.390},{"w":452,"t":"925 s","v":0.388},{"w":455,"t":"925 s","v":0.380},{"w":458,"t":"925 s","v":0.368},{"w":461,"t":"925 s","v":0.355},{"w":464,"t":"925 s","v":0.338},{"w":467,"t":"925 s","v":0.322},{"w":470,"t":"925 s","v":0.305},{"w":474,"t":"925 s","v":0.275},{"w":478,"t":"925 s","v":0.250},{"w":482,"t":"925 s","v":0.222},{"w":487,"t":"925 s","v":0.183},{"w":493,"t":"925 s","v":0.145},{"w":500,"t":"925 s","v":0.097},{"w":510,"t":"925 s","v":0.072},{"w":520,"t":"925 s","v":0.062},{"w":530,"t":"925 s","v":0.058},{"w":541,"t":"925 s","v":0.057},{"w":551,"t":"925 s","v":0.056},{"w":560,"t":"925 s","v":0.055},{"w":567,"t":"925 s","v":0.055},{"w":575,"t":"925 s","v":0.056},{"w":583,"t":"925 s","v":0.058},{"w":590,"t":"925 s","v":0.059},{"w":596,"t":"925 s","v":0.060},{"w":604,"t":"925 s","v":0.061},{"w":611,"t":"925 s","v":0.064},{"w":617,"t":"925 s","v":0.071},{"w":622,"t":"925 s","v":0.076},{"w":627,"t":"925 s","v":0.085},{"w":631,"t":"925 s","v":0.090},{"w":635,"t":"925 s","v":0.090},{"w":639,"t":"925 s","v":0.089},{"w":643,"t":"925 s","v":0.089},{"w":648,"t":"925 s","v":0.083},{"w":654,"t":"925 s","v":0.082},{"w":660,"t":"925 s","v":0.082},{"w":667,"t":"925 s","v":0.076},{"w":675,"t":"925 s","v":0.063},{"w":688,"t":"925 s","v":0.0425},{"w":704,"t":"925 s","v":0.034},{"w":715,"t":"925 s","v":0.029},{"w":728,"t":"925 s","v":0.020},{"w":740,"t":"925 s","v":0.012},{"w":749,"t":"925 s","v":0.012},
{"w":380,"t":"1,470 s","v":0.238},{"w":391,"t":"1,470 s","v":0.236},{"w":400,"t":"1,470 s","v":0.232},{"w":408,"t":"1,470 s","v":0.232},{"w":414,"t":"1,470 s","v":0.252},{"w":420,"t":"1,470 s","v":0.268},{"w":425,"t":"1,470 s","v":0.275},{"w":430,"t":"1,470 s","v":0.283},{"w":435,"t":"1,470 s","v":0.295},{"w":440,"t":"1,470 s","v":0.312},{"w":443,"t":"1,470 s","v":0.322},{"w":446,"t":"1,470 s","v":0.332},{"w":448,"t":"1,470 s","v":0.337},{"w":450,"t":"1,470 s","v":0.339},{"w":452,"t":"1,470 s","v":0.337},{"w":455,"t":"1,470 s","v":0.332},{"w":458,"t":"1,470 s","v":0.324},{"w":461,"t":"1,470 s","v":0.315},{"w":464,"t":"1,470 s","v":0.306},{"w":467,"t":"1,470 s","v":0.298},{"w":470,"t":"1,470 s","v":0.290},{"w":474,"t":"1,470 s","v":0.275},{"w":478,"t":"1,470 s","v":0.255},{"w":482,"t":"1,470 s","v":0.228},{"w":487,"t":"1,470 s","v":0.190},{"w":493,"t":"1,470 s","v":0.150},{"w":500,"t":"1,470 s","v":0.101},{"w":510,"t":"1,470 s","v":0.075},{"w":520,"t":"1,470 s","v":0.065},{"w":530,"t":"1,470 s","v":0.060},{"w":541,"t":"1,470 s","v":0.058},{"w":551,"t":"1,470 s","v":0.057},{"w":560,"t":"1,470 s","v":0.056},{"w":567,"t":"1,470 s","v":0.056},{"w":575,"t":"1,470 s","v":0.056},{"w":583,"t":"1,470 s","v":0.056},{"w":590,"t":"1,470 s","v":0.058},{"w":596,"t":"1,470 s","v":0.060},{"w":604,"t":"1,470 s","v":0.064},{"w":611,"t":"1,470 s","v":0.067},{"w":617,"t":"1,470 s","v":0.072},{"w":622,"t":"1,470 s","v":0.076},{"w":627,"t":"1,470 s","v":0.082},{"w":631,"t":"1,470 s","v":0.086},{"w":635,"t":"1,470 s","v":0.087},{"w":639,"t":"1,470 s","v":0.088},{"w":643,"t":"1,470 s","v":0.093},{"w":648,"t":"1,470 s","v":0.091},{"w":654,"t":"1,470 s","v":0.092},{"w":660,"t":"1,470 s","v":0.095},{"w":667,"t":"1,470 s","v":0.088},{"w":675,"t":"1,470 s","v":0.070},{"w":688,"t":"1,470 s","v":0.048},{"w":704,"t":"1,470 s","v":0.039},{"w":715,"t":"1,470 s","v":0.034},{"w":728,"t":"1,470 s","v":0.021},{"w":740,"t":"1,470 s","v":0.012},{"w":749,"t":"1,470 s","v":0.012}
],
"ak":[{"f":334.15,"s":-4},{"f":334.2,"s":8},{"f":334.25,"s":-10},{"f":334.3,"s":12},{"f":334.35,"s":-3},{"f":334.4,"s":-12},{"f":334.45,"s":6},{"f":334.5,"s":14},{"f":334.55,"s":-8},{"f":334.6,"s":-15},{"f":334.65,"s":4},{"f":334.7,"s":10},{"f":334.75,"s":-6},{"f":334.8,"s":2},{"f":334.85,"s":-13},{"f":334.9,"s":15},{"f":334.95,"s":0},{"f":335.0,"s":-10},{"f":335.05,"s":9},{"f":335.1,"s":3},{"f":335.15,"s":-14},{"f":335.2,"s":-6},{"f":335.25,"s":11},{"f":335.3,"s":5},{"f":335.35,"s":-9},{"f":335.4,"s":16},{"f":335.45,"s":-2},{"f":335.5,"s":-11},{"f":335.55,"s":7},{"f":335.6,"s":-4},{"f":335.65,"s":13},{"f":335.7,"s":-14},{"f":335.75,"s":2},{"f":335.8,"s":9},{"f":335.85,"s":-7},{"f":335.9,"s":-1},{"f":335.95,"s":12},{"f":336.0,"s":-5},{"f":336.05,"s":8},{"f":336.1,"s":-12},{"f":336.15,"s":4},{"f":336.2,"s":10},{"f":336.25,"s":-9},{"f":336.3,"s":-16},{"f":336.35,"s":3},{"f":336.4,"s":7},{"f":336.45,"s":-6},{"f":336.5,"s":11},{"f":336.55,"s":-3},{"f":336.6,"s":14},{"f":336.65,"s":-10},{"f":336.7,"s":-2},{"f":336.75,"s":8},{"f":336.8,"s":-12},{"f":336.85,"s":5},{"f":336.9,"s":-18},{"f":336.95,"s":6},{"f":337.0,"s":-4},{"f":337.05,"s":10},{"f":337.1,"s":-8},{"f":337.15,"s":2},{"f":337.2,"s":12},{"f":337.25,"s":-11},{"f":337.3,"s":-3},{"f":337.35,"s":9},{"f":337.4,"s":-7},{"f":337.45,"s":4},{"f":337.5,"s":-14},{"f":337.55,"s":6},{"f":337.6,"s":-2},{"f":337.65,"s":10},{"f":337.7,"s":-20},{"f":337.75,"s":-5},{"f":337.8,"s":5},{"f":337.85,"s":12},{"f":337.9,"s":25},{"f":337.95,"s":42},{"f":338.0,"s":60},{"f":338.05,"s":72},{"f":338.1,"s":95},{"f":338.15,"s":110},{"f":338.2,"s":130},{"f":338.25,"s":150},{"f":338.3,"s":165},{"f":338.35,"s":172},{"f":338.4,"s":195},{"f":338.45,"s":205},{"f":338.5,"s":222},{"f":338.55,"s":240},{"f":338.6,"s":250},{"f":338.65,"s":262},{"f":338.7,"s":272},{"f":338.75,"s":290},{"f":338.8,"s":295},{"f":338.85,"s":305},{"f":338.9,"s":312},{"f":338.95,"s":300},{"f":339.0,"s":278},{"f":339.05,"s":255},{"f":339.1,"s":220},{"f":339.15,"s":185},{"f":339.2,"s":150},{"f":339.25,"s":112},{"f":339.3,"s":70},{"f":339.35,"s":25},{"f":339.4,"s":-20},{"f":339.45,"s":-62},{"f":339.5,"s":-100},{"f":339.55,"s":-135},{"f":339.6,"s":-160},{"f":339.65,"s":-190},{"f":339.7,"s":-210},{"f":339.75,"s":-232},{"f":339.8,"s":-250},{"f":339.85,"s":-268},{"f":339.9,"s":-280},{"f":339.95,"s":-292},{"f":340.0,"s":-300},{"f":340.05,"s":-308},{"f":340.1,"s":-290},{"f":340.15,"s":-285},{"f":340.2,"s":-272},{"f":340.25,"s":-268},{"f":340.3,"s":-255},{"f":340.35,"s":-248},{"f":340.4,"s":-235},{"f":340.45,"s":-228},{"f":340.5,"s":-215},{"f":340.55,"s":-205},{"f":340.6,"s":-190},{"f":340.65,"s":-172},{"f":340.7,"s":-150},{"f":340.75,"s":-128},{"f":340.8,"s":-100},{"f":340.85,"s":-78},{"f":340.9,"s":-55},{"f":340.95,"s":-35},{"f":341.0,"s":-20},{"f":341.05,"s":-10},{"f":341.1,"s":-5},{"f":341.15,"s":6},{"f":341.2,"s":-3},{"f":341.25,"s":10},{"f":341.3,"s":-6},{"f":341.35,"s":4},{"f":341.4,"s":12},{"f":341.45,"s":-9},{"f":341.5,"s":-2},{"f":341.55,"s":8},{"f":341.6,"s":-12},{"f":341.65,"s":5},{"f":341.7,"s":14},{"f":341.75,"s":-4},{"f":341.8,"s":9},{"f":341.85,"s":-11},{"f":341.9,"s":0},{"f":341.95,"s":7},{"f":342.0,"s":13},{"f":342.05,"s":-8},{"f":342.1,"s":3},{"f":342.15,"s":-14},{"f":342.2,"s":6},{"f":342.25,"s":10},{"f":342.3,"s":-15},{"f":342.35,"s":2},{"f":342.4,"s":11},{"f":342.45,"s":-5},{"f":342.5,"s":-9},{"f":342.55,"s":8},{"f":342.6,"s":12},{"f":342.65,"s":-3},{"f":342.7,"s":-12},{"f":342.75,"s":5},{"f":342.8,"s":1},{"f":342.85,"s":9},{"f":342.9,"s":-17},{"f":342.95,"s":4},{"f":343.0,"s":8},{"f":343.05,"s":-6},{"f":343.1,"s":-2},{"f":343.15,"s":11},{"f":343.2,"s":15},{"f":343.25,"s":-7},{"f":343.3,"s":-10},{"f":343.35,"s":3},{"f":343.4,"s":6},{"f":343.45,"s":-12},{"f":343.5,"s":-4},{"f":343.55,"s":9},{"f":343.6,"s":7},{"f":343.65,"s":-8},{"f":343.7,"s":2},{"f":343.75,"s":12},{"f":343.8,"s":-5},{"f":343.85,"s":4},{"f":343.9,"s":-9},{"f":343.95,"s":3}],
"ag":[{"f":337.75,"s":0},{"f":337.8,"s":8},{"f":337.85,"s":12},{"f":337.9,"s":25},{"f":337.95,"s":32},{"f":338.0,"s":45},{"f":338.05,"s":52},{"f":338.1,"s":62},{"f":338.15,"s":70},{"f":338.2,"s":78},{"f":338.25,"s":82},{"f":338.3,"s":86},{"f":338.35,"s":95},{"f":338.4,"s":76},{"f":338.45,"s":70},{"f":338.5,"s":60},{"f":338.55,"s":52},{"f":338.6,"s":45},{"f":338.65,"s":38},{"f":338.7,"s":32},{"f":338.75,"s":28},{"f":338.8,"s":45},{"f":338.85,"s":55},{"f":338.9,"s":68},{"f":338.95,"s":78},{"f":339.0,"s":86},{"f":339.05,"s":100},{"f":339.1,"s":80},{"f":339.15,"s":62},{"f":339.2,"s":40},{"f":339.25,"s":22},{"f":339.3,"s":5},{"f":339.35,"s":-12},{"f":339.4,"s":-30},{"f":339.45,"s":-45},{"f":339.5,"s":-60},{"f":339.55,"s":-70},{"f":339.6,"s":-75},{"f":339.65,"s":-72},{"f":339.7,"s":-82},{"f":339.75,"s":-90},{"f":339.8,"s":-98},{"f":339.85,"s":-95},{"f":339.9,"s":-106},{"f":339.95,"s":-112},{"f":340.0,"s":-125},{"f":340.05,"s":-145},{"f":340.1,"s":-120},{"f":340.15,"s":-112},{"f":340.2,"s":-106},{"f":340.25,"s":-100},{"f":340.3,"s":-95},{"f":340.35,"s":-97},{"f":340.4,"s":-90},{"f":340.45,"s":-82},{"f":340.5,"s":-76},{"f":340.55,"s":-74},{"f":340.6,"s":-70},{"f":340.65,"s":-62},{"f":340.7,"s":-55},{"f":340.75,"s":-48},{"f":340.8,"s":-42},{"f":340.85,"s":-36},{"f":340.9,"s":-30},{"f":340.95,"s":-22},{"f":341.0,"s":-16},{"f":341.05,"s":-14},{"f":341.1,"s":-10},{"f":341.15,"s":-4},{"f":341.2,"s":0}],
"ck":[{"f":334.6,"s":0},{"f":334.65,"s":9},{"f":334.7,"s":-10},{"f":334.75,"s":4},{"f":334.8,"s":8},{"f":334.85,"s":-12},{"f":334.9,"s":-5},{"f":334.95,"s":10},{"f":335.0,"s":12},{"f":335.05,"s":-6},{"f":335.1,"s":-8},{"f":335.15,"s":7},{"f":335.2,"s":5},{"f":335.25,"s":-14},{"f":335.3,"s":-12},{"f":335.35,"s":6},{"f":335.4,"s":10},{"f":335.45,"s":-3},{"f":335.5,"s":2},{"f":335.55,"s":11},{"f":335.6,"s":-9},{"f":335.65,"s":3},{"f":335.7,"s":14},{"f":335.75,"s":-6},{"f":335.8,"s":-4},{"f":335.85,"s":10},{"f":335.9,"s":8},{"f":335.95,"s":-8},{"f":336.0,"s":-11},{"f":336.05,"s":5},{"f":336.1,"s":6},{"f":336.15,"s":-4},{"f":336.2,"s":15},{"f":336.25,"s":2},{"f":336.3,"s":-3},{"f":336.35,"s":12},{"f":336.4,"s":9},{"f":336.45,"s":-5},{"f":336.5,"s":-6},{"f":336.55,"s":10},{"f":336.6,"s":12},{"f":336.65,"s":0},{"f":336.7,"s":4},{"f":336.75,"s":16},{"f":336.8,"s":18},{"f":336.85,"s":5},{"f":336.9,"s":8},{"f":336.95,"s":20},{"f":337.0,"s":22},{"f":337.05,"s":10},{"f":337.1,"s":15},{"f":337.15,"s":30},{"f":337.2,"s":35},{"f":337.25,"s":28},{"f":337.3,"s":40},{"f":337.35,"s":48},{"f":337.4,"s":52},{"f":337.45,"s":50},{"f":337.5,"s":58},{"f":337.55,"s":68},{"f":337.6,"s":75},{"f":337.65,"s":80},{"f":337.7,"s":90},{"f":337.75,"s":98},{"f":337.8,"s":100},{"f":337.85,"s":112},{"f":337.9,"s":118},{"f":337.95,"s":130},{"f":338.0,"s":145},{"f":338.05,"s":160},{"f":338.1,"s":170},{"f":338.15,"s":182},{"f":338.2,"s":195},{"f":338.25,"s":212},{"f":338.3,"s":225},{"f":338.35,"s":235},{"f":338.4,"s":248},{"f":338.45,"s":268},{"f":338.5,"s":285},{"f":338.55,"s":300},{"f":338.6,"s":318},{"f":338.65,"s":312},{"f":338.7,"s":300},{"f":338.75,"s":270},{"f":338.8,"s":245},{"f":338.85,"s":215},{"f":338.9,"s":195},{"f":338.95,"s":178},{"f":339.0,"s":170},{"f":339.05,"s":168},{"f":339.1,"s":162},{"f":339.15,"s":155},{"f":339.2,"s":140},{"f":339.25,"s":118},{"f":339.3,"s":90},{"f":339.35,"s":60},{"f":339.4,"s":30},{"f":339.45,"s":0},{"f":339.5,"s":-35},{"f":339.55,"s":-62},{"f":339.6,"s":-90},{"f":339.65,"s":-120},{"f":339.7,"s":-150},{"f":339.75,"s":-178},{"f":339.8,"s":-200},{"f":339.85,"s":-222},{"f":339.9,"s":-240},{"f":339.95,"s":-260},{"f":340.0,"s":-275},{"f":340.05,"s":-290},{"f":340.1,"s":-300},{"f":340.15,"s":-305},{"f":340.2,"s":-315},{"f":340.25,"s":-318},{"f":340.3,"s":-325},{"f":340.35,"s":-310},{"f":340.4,"s":-300},{"f":340.45,"s":-296},{"f":340.5,"s":-285},{"f":340.55,"s":-272},{"f":340.6,"s":-262},{"f":340.65,"s":-252},{"f":340.7,"s":-240},{"f":340.75,"s":-225},{"f":340.8,"s":-212},{"f":340.85,"s":-200},{"f":340.9,"s":-190},{"f":340.95,"s":-176},{"f":341.0,"s":-165},{"f":341.05,"s":-150},{"f":341.1,"s":-140},{"f":341.15,"s":-126},{"f":341.2,"s":-115},{"f":341.25,"s":-102},{"f":341.3,"s":-92},{"f":341.35,"s":-80},{"f":341.4,"s":-70},{"f":341.45,"s":-60},{"f":341.5,"s":-52},{"f":341.55,"s":-44},{"f":341.6,"s":-38},{"f":341.65,"s":-30},{"f":341.7,"s":-28},{"f":341.75,"s":-20},{"f":341.8,"s":-22},{"f":341.85,"s":-30},{"f":341.9,"s":-25},{"f":341.95,"s":-12},{"f":342.0,"s":-15},{"f":342.05,"s":-26},{"f":342.1,"s":-22},{"f":342.15,"s":-10},{"f":342.2,"s":-8},{"f":342.25,"s":-20},{"f":342.3,"s":-18},{"f":342.35,"s":-3},{"f":342.4,"s":-5},{"f":342.45,"s":-16},{"f":342.5,"s":-14},{"f":342.55,"s":0},{"f":342.6,"s":2},{"f":342.65,"s":-12},{"f":342.7,"s":-10},{"f":342.75,"s":4},{"f":342.8,"s":6},{"f":342.85,"s":-8},{"f":342.9,"s":-6},{"f":342.95,"s":8},{"f":343.0,"s":10},{"f":343.05,"s":-4},{"f":343.1,"s":-2},{"f":343.15,"s":12},{"f":343.2,"s":14},{"f":343.25,"s":-3},{"f":343.3,"s":0},{"f":343.35,"s":15},{"f":343.4,"s":12},{"f":343.45,"s":-6},{"f":343.5,"s":-4},{"f":343.55,"s":13},{"f":343.6,"s":15},{"f":343.65,"s":-5},{"f":343.7,"s":-2},{"f":343.75,"s":12},{"f":343.8,"s":8}],
"cg":[{"f":337.05,"s":15},{"f":337.1,"s":20},{"f":337.15,"s":35},{"f":337.2,"s":32},{"f":337.25,"s":22},{"f":337.3,"s":25},{"f":337.35,"s":45},{"f":337.4,"s":42},{"f":337.45,"s":30},{"f":337.5,"s":35},{"f":337.55,"s":52},{"f":337.6,"s":48},{"f":337.65,"s":36},{"f":337.7,"s":40},{"f":337.75,"s":58},{"f":337.8,"s":55},{"f":337.85,"s":42},{"f":337.9,"s":45},{"f":337.95,"s":63},{"f":338.0,"s":60},{"f":338.05,"s":46},{"f":338.1,"s":50},{"f":338.15,"s":66},{"f":338.2,"s":62},{"f":338.25,"s":50},{"f":338.3,"s":55},{"f":338.35,"s":72},{"f":338.4,"s":68},{"f":338.45,"s":54},{"f":338.5,"s":58},{"f":338.55,"s":74},{"f":338.6,"s":70},{"f":338.65,"s":56},{"f":338.7,"s":60},{"f":338.75,"s":68},{"f":338.8,"s":62},{"f":338.85,"s":48},{"f":338.9,"s":50},{"f":338.95,"s":60},{"f":339.0,"s":55},{"f":339.05,"s":38},{"f":339.1,"s":40},{"f":339.15,"s":45},{"f":339.2,"s":38},{"f":339.25,"s":22},{"f":339.3,"s":20},{"f":339.35,"s":18},{"f":339.4,"s":10},{"f":339.45,"s":-2},{"f":339.5,"s":-5},{"f":339.55,"s":-8},{"f":339.6,"s":-15},{"f":339.65,"s":-28},{"f":339.7,"s":-30},{"f":339.75,"s":-28},{"f":339.8,"s":-35},{"f":339.85,"s":-50},{"f":339.9,"s":-48},{"f":339.95,"s":-45},{"f":340.0,"s":-52},{"f":340.05,"s":-66},{"f":340.1,"s":-62},{"f":340.15,"s":-55},{"f":340.2,"s":-58},{"f":340.25,"s":-75},{"f":340.3,"s":-72},{"f":340.35,"s":-60},{"f":340.4,"s":-65},{"f":340.45,"s":-74},{"f":340.5,"s":-70},{"f":340.55,"s":-55},{"f":340.6,"s":-58},{"f":340.65,"s":-70},{"f":340.7,"s":-65},{"f":340.75,"s":-48},{"f":340.8,"s":-50},{"f":340.85,"s":-62},{"f":340.9,"s":-55},{"f":340.95,"s":-38},{"f":341.0,"s":-42},{"f":341.05,"s":-50},{"f":341.1,"s":-45},{"f":341.15,"s":-30},{"f":341.2,"s":-32},{"f":341.25,"s":-40},{"f":341.3,"s":-35},{"f":341.35,"s":-22},{"f":341.4,"s":-25},{"f":341.45,"s":-32},{"f":341.5,"s":-28},{"f":341.55,"s":-15},{"f":341.6,"s":-18},{"f":341.65,"s":-24},{"f":341.7,"s":-20}],
"annC":[{"w":542.2,"v":0.127,"lab":"540","k":"b"},{"w":582.4,"v":0.1437,"lab":"583","k":"b"},{"w":631.3,"v":0.2166,"lab":"632","k":"b"},{"w":429.3,"v":1.065,"lab":"451","k":"b"},{"w":647.3,"v":0.1687,"lab":"647","k":"r"},{"w":675.5,"v":0.157,"lab":"659","k":"r"},{"w":705.1,"v":0.103,"lab":"707","k":"r"}],
"tickC":[{"w":542.2,"w2":542.2,"v":0.107,"v2":0.083,"k":"b"},{"w":582.4,"w2":582.4,"v":0.1235,"v2":0.1032,"k":"b"},{"w":631.3,"w2":631.3,"v":0.194,"v2":0.1707,"k":"b"},{"w":446.7,"w2":449.5,"v":1.0715,"v2":1.0715,"k":"b"},{"w":449.5,"w2":449.5,"v":1.0715,"v2":1.062,"k":"b"},{"w":647.7,"w2":647.7,"v":0.1437,"v2":0.1067,"k":"r"},{"w":660,"w2":660,"v":0.13,"v2":0.1047,"k":"r"},{"w":660,"w2":663,"v":0.13,"v2":0.134,"k":"r"},{"w":706,"w2":706,"v":0.0775,"v2":0.056,"k":"r"}]
},
"vconcat":[
{
"width":555,"height":543,
"resolve":{"scale":{"x":"independent","y":"independent"}},
"layer":[
{"resolve":{"axis":{"x":"independent","y":"independent"}},
"layer":[
{"data":{"name":"specA"},"mark":{"type":"line","strokeWidth":2.5,"interpolate":"monotone"},
"encoding":{
"x":{"field":"w","type":"quantitative","scale":{"domain":[379.5,751.5],"nice":false,"zero":false},
"axis":{"orient":"bottom","values":[380,390,400,410,420,430,440,450,460,470,480,490,500,510,520,530,540,550,560,570,580,590,600,610,620,630,640,650,660,670,680,690,700,710,720,730,740,750],"labelExpr":"datum.value % 100 == 0 ? datum.label : ''","labelPadding":20.5,"title":"Wavelength (nm)","titleX":290.8,"titleY":57,"titleBaseline":"middle","titleAlign":"center"}},
"y":{"field":"v","type":"quantitative","scale":{"domain":[-0.009,0.42],"nice":false,"zero":false},
"axis":{"orient":"left","values":[0,0.05,0.1,0.15,0.2,0.25,0.3,0.35,0.4],"labelExpr":"abs(datum.value*10-round(datum.value*10))<0.001 ? (datum.value==0 ? '0' : format(datum.value,'.1f')) : ''","labelPadding":19.6,"title":"Absorbance","titleX":-76,"titleY":265,"titleBaseline":"middle","titleAlign":"center","titleAngle":270}},
"color":{"field":"t","type":"nominal","scale":{"domain":["45 s","160 s","375 s","710 s","870 s"],"range":["#231f20","#2a48a0","#8b3c9e","#a3272c","#e8202a"]},
"legend":{"orient":"none","direction":"vertical","legendX":157.6,"legendY":34.2,"title":null,"symbolSize":1600,"clipHeight":23.15,"rowPadding":0,"labelAlign":"right","labelOffset":65.5}}
}},
{"data":{"name":"specA"},"mark":{"type":"point","opacity":0},
"encoding":{"x":{"field":"w","type":"quantitative","axis":{"orient":"top","values":[380,390,400,410,420,430,440,450,460,470,480,490,500,510,520,530,540,550,560,570,580,590,600,610,620,630,640,650,660,670,680,690,700,710,720,730,740,750],"labels":false,"title":null}},
"y":{"field":"v","type":"quantitative","axis":{"orient":"right","values":[0,0.05,0.1,0.15,0.2,0.25,0.3,0.35,0.4],"labels":false,"title":null}}}},
{"data":{"values":[{}]},"mark":{"type":"text","font":"Liberation Sans","fontSize":34,"fontWeight":"bold","align":"center","baseline":"alphabetic","color":"#231f20"},
"encoding":{"x":{"datum":408,"axis":null},"y":{"datum":0.3864,"axis":null},"text":{"value":"a"}}}
]},
{"resolve":{"axis":{"x":"independent","y":"independent"}},
"layer":[
{"data":{"name":"ag"},"mark":{"type":"line","color":"#6d6e71","strokeWidth":1.2},
"encoding":{"x":{"field":"f","type":"quantitative","scale":{"domain":[334,344],"range":[278.3,532.3],"nice":false,"zero":false},
"axis":{"orient":"bottom","offset":-260.3,"values":[334,336,338,340,342,344],"tickSize":-6,"labelPadding":16,"labelFontSize":21,"format":"d","title":"Magnetic field (mT)","titleFontSize":22,"titleX":413,"titleY":42,"titleBaseline":"middle","titleAlign":"center"}},
"y":{"field":"s","type":"quantitative","scale":{"domain":[-380,402],"range":[282.7,22],"nice":false,"zero":false},"axis":null}}},
{"data":{"name":"ak"},"mark":{"type":"line","color":"#231f20","strokeWidth":1.2},
"encoding":{"x":{"field":"f","type":"quantitative","axis":null},"y":{"field":"s","type":"quantitative","axis":null}}},
{"data":{"values":[{}]},"mark":{"type":"rect","filled":false,"stroke":"#231f20","strokeWidth":2},
"encoding":{"x":{"datum":334,"axis":null},"x2":{"datum":344},"y":{"datum":-380,"axis":null},"y2":{"datum":402}}},
{"data":{"values":[{}]},"mark":{"type":"text","font":"Liberation Sans","fontSize":21,"align":"left","baseline":"middle","color":"#231f20"},
"encoding":{"x":{"datum":339.34,"axis":null},"y":{"datum":280,"axis":null},"text":{"value":"180 s"}}},
{"data":{"values":[{}]},"mark":{"type":"text","font":"Liberation Sans","fontSize":21,"align":"left","baseline":"middle","color":"#7d9aab"},
"encoding":{"x":{"datum":339.67,"axis":null},"y":{"datum":95,"axis":null},"text":{"value":"60 s"}}},
{"data":{"values":[{}]},"mark":{"type":"text","font":"Liberation Serif","fontSize":24,"align":"left","baseline":"middle","color":"#e8202a"},
"encoding":{"x":{"datum":335.6,"axis":null},"y":{"datum":-100,"axis":null},"text":{"value":"g= 2.005"}}}
]}
]
},
{
"width":555,"height":543,
"resolve":{"axis":{"x":"independent","y":"independent"}},
"layer":[
{"data":{"name":"specB"},"mark":{"type":"line","strokeWidth":2.5,"interpolate":"monotone"},
"encoding":{
"x":{"field":"w","type":"quantitative","scale":{"domain":[379.5,751.5],"nice":false,"zero":false},
"axis":{"orient":"bottom","values":[380,390,400,410,420,430,440,450,460,470,480,490,500,510,520,530,540,550,560,570,580,590,600,610,620,630,640,650,660,670,680,690,700,710,720,730,740,750],"labelExpr":"datum.value % 100 == 0 ? datum.label : ''","labelPadding":20.5,"title":"Wavelength (nm)","titleX":290.8,"titleY":55,"titleBaseline":"middle","titleAlign":"center"}},
"y":{"field":"v","type":"quantitative","scale":{"domain":[-0.0055,0.72],"nice":false,"zero":false},
"axis":{"orient":"left","values":[0,0.1,0.2,0.3,0.4,0.5,0.6,0.7],"labelExpr":"abs(datum.value*5-round(datum.value*5))<0.001 ? (datum.value==0 ? '0' : format(datum.value,'.1f')) : ''","labelPadding":19.6,"title":"Absorbance","titleX":-76,"titleY":264,"titleBaseline":"middle","titleAlign":"center","titleAngle":270}},
"color":{"field":"t","type":"nominal","scale":{"domain":["0 s","15 s","590 s","1,145 s","1,730 s","1,910 s","2,160 s"],"range":["#231f20","#2a48a0","#8e44ad","#7a6f6c","#f6a623","#d9722a","#e8202a"]},
"legend":{"orient":"none","direction":"vertical","legendX":375.6,"legendY":48.9,"title":null,"symbolSize":3025,"clipHeight":23.25,"rowPadding":0,"labelAlign":"right","labelOffset":81.4}}
}},
{"data":{"name":"specB"},"mark":{"type":"point","opacity":0},
"encoding":{"x":{"field":"w","type":"quantitative","axis":{"orient":"top","values":[380,390,400,410,420,430,440,450,460,470,480,490,500,510,520,530,540,550,560,570,580,590,600,610,620,630,640,650,660,670,680,690,700,710,720,730,740,750],"labels":false,"title":null}},
"y":{"field":"v","type":"quantitative","axis":{"orient":"right","values":[0,0.1,0.2,0.3,0.4,0.5,0.6,0.7],"labels":false,"title":null}}}},
{"data":{"values":[{}]},"mark":{"type":"text","font":"Liberation Sans","fontSize":34,"fontWeight":"bold","align":"center","baseline":"alphabetic","color":"#231f20"},
"encoding":{"x":{"datum":408,"axis":null},"y":{"datum":0.6475,"axis":null},"text":{"value":"b"}}}
]
},
{
"width":554,"height":543,
"resolve":{"scale":{"x":"independent","y":"independent"}},
"layer":[
{"resolve":{"axis":{"x":"independent","y":"independent"}},
"layer":[
{"data":{"name":"specC"},"mark":{"type":"line","strokeWidth":1.4,"interpolate":"monotone"},
"encoding":{
"x":{"field":"w","type":"quantitative","scale":{"domain":[380.3,749.6],"nice":false,"zero":false},
"axis":{"orient":"bottom","values":[390,400,410,420,430,440,450,460,470,480,490,500,510,520,530,540,550,560,570,580,590,600,610,620,630,640,650,660,670,680,690,700,710,720,730,740],"labelExpr":"datum.value % 100 == 0 ? datum.label : ''","labelPadding":20.5,"title":"Wavelength (nm)","titleX":290.8,"titleY":56.6,"titleBaseline":"middle","titleAlign":"center"}},
"y":{"field":"v","type":"quantitative","scale":{"domain":[0,1.098],"nice":false,"zero":false},
"axis":{"orient":"left","values":[0,0.2,0.4,0.6,0.8,1.0],"labelExpr":"datum.value==0 ? '0' : format(datum.value,'.1f')","labelPadding":19.6,"title":"Absorbance","titleX":-76,"titleY":259,"titleBaseline":"middle","titleAlign":"center","titleAngle":270}},
"color":{"field":"t","type":"nominal","scale":{"domain":["0 s","55 s","165 s","275 s","400 s","608 s","925 s","1,470 s"],"range":["#231f20","#2a4ba0","#b054a8","#b0a22a","#f2e41a","#f9b54a","#e07f2a","#e8202a"]},
"legend":{"orient":"none","direction":"vertical","legendX":151.1,"legendY":14.1,"title":null,"symbolSize":1600,"clipHeight":23.36,"rowPadding":0,"labelAlign":"right","labelOffset":77.6}}
}},
{"data":{"name":"specC"},"mark":{"type":"point","opacity":0},
"encoding":{"x":{"field":"w","type":"quantitative","axis":{"orient":"top","values":[390,400,410,420,430,440,450,460,470,480,490,500,510,520,530,540,550,560,570,580,590,600,610,620,630,640,650,660,670,680,690,700,710,720,730,740],"labels":false,"title":null}},
"y":{"field":"v","type":"quantitative","axis":{"orient":"right","values":[0,0.2,0.4,0.6,0.8,1.0],"labels":false,"title":null}}}},
{"data":{"values":[{}]},"mark":{"type":"text","font":"Liberation Sans","fontSize":34,"fontWeight":"bold","align":"center","baseline":"alphabetic","color":"#231f20"},
"encoding":{"x":{"datum":408.7,"axis":null},"y":{"datum":0.994,"axis":null},"text":{"value":"c"}}},
{"data":{"name":"tickC"},"transform":[{"filter":"datum.k == 'b'"}],"mark":{"type":"rule","color":"#2b3990","strokeWidth":1.3},
"encoding":{"x":{"field":"w","type":"quantitative","axis":null},"x2":{"field":"w2"},"y":{"field":"v","type":"quantitative","axis":null},"y2":{"field":"v2"}}},
{"data":{"name":"tickC"},"transform":[{"filter":"datum.k == 'r'"}],"mark":{"type":"rule","color":"#e8202a","strokeWidth":1.3},
"encoding":{"x":{"field":"w","type":"quantitative","axis":null},"x2":{"field":"w2"},"y":{"field":"v","type":"quantitative","axis":null},"y2":{"field":"v2"}}},
{"data":{"name":"annC"},"transform":[{"filter":"datum.k == 'b'"}],"mark":{"type":"text","font":"Liberation Sans","fontSize":21,"align":"center","baseline":"middle","color":"#2b3990"},
"encoding":{"x":{"field":"w","type":"quantitative","axis":null},"y":{"field":"v","type":"quantitative","axis":null},"text":{"field":"lab"}}},
{"data":{"name":"annC"},"transform":[{"filter":"datum.k == 'r'"}],"mark":{"type":"text","font":"Liberation Sans","fontSize":21,"align":"center","baseline":"middle","color":"#e8202a"},
"encoding":{"x":{"field":"w","type":"quantitative","axis":null},"y":{"field":"v","type":"quantitative","axis":null},"text":{"field":"lab"}}}
]},
{"resolve":{"axis":{"x":"independent","y":"independent"}},
"layer":[
{"data":{"name":"cg"},"mark":{"type":"line","color":"#6d6e71","strokeWidth":1.2},
"encoding":{"x":{"field":"f","type":"quantitative","scale":{"domain":[334,344],"range":[276.9,533.9],"nice":false,"zero":false},
"axis":{"orient":"bottom","offset":-274.7,"values":[334,336,338,340,342,344],"tickSize":-6,"tickOpacity":{"condition":{"test":"datum.value == 334","value":0},"value":1},"labelPadding":16,"labelFontSize":21,"format":"d","title":"Magnetic field (mT)","titleFontSize":22,"titleX":411.4,"titleY":44,"titleBaseline":"middle","titleAlign":"center"}},
"y":{"field":"s","type":"quantitative","scale":{"domain":[-385,390],"range":[268.3,9.9],"nice":false,"zero":false},"axis":null}}},
{"data":{"name":"ck"},"mark":{"type":"line","color":"#231f20","strokeWidth":1.2},
"encoding":{"x":{"field":"f","type":"quantitative","axis":null},"y":{"field":"s","type":"quantitative","axis":null}}},
{"data":{"values":[{}]},"mark":{"type":"rect","filled":false,"stroke":"#231f20","strokeWidth":2},
"encoding":{"x":{"datum":334.25,"axis":null},"x2":{"datum":344},"y":{"datum":-385,"axis":null},"y2":{"datum":390}}},
{"data":{"values":[{}]},"mark":{"type":"text","font":"Liberation Sans","fontSize":21,"align":"left","baseline":"middle","color":"#231f20"},
"encoding":{"x":{"datum":339.27,"axis":null},"y":{"datum":285,"axis":null},"text":{"value":"360 s"}}},
{"data":{"values":[{}]},"mark":{"type":"text","font":"Liberation Sans","fontSize":21,"align":"left","baseline":"middle","color":"#7d9aab"},
"encoding":{"x":{"datum":339.76,"axis":null},"y":{"datum":55,"axis":null},"text":{"value":"180 s"}}},
{"data":{"values":[{}]},"mark":{"type":"text","font":"Liberation Serif","fontSize":24,"align":"left","baseline":"middle","color":"#e8202a"},
"encoding":{"x":{"datum":335.79,"axis":null},"y":{"datum":-85,"axis":null},"text":{"value":"g= 2.004"}}}
]}
]
}
]
}
